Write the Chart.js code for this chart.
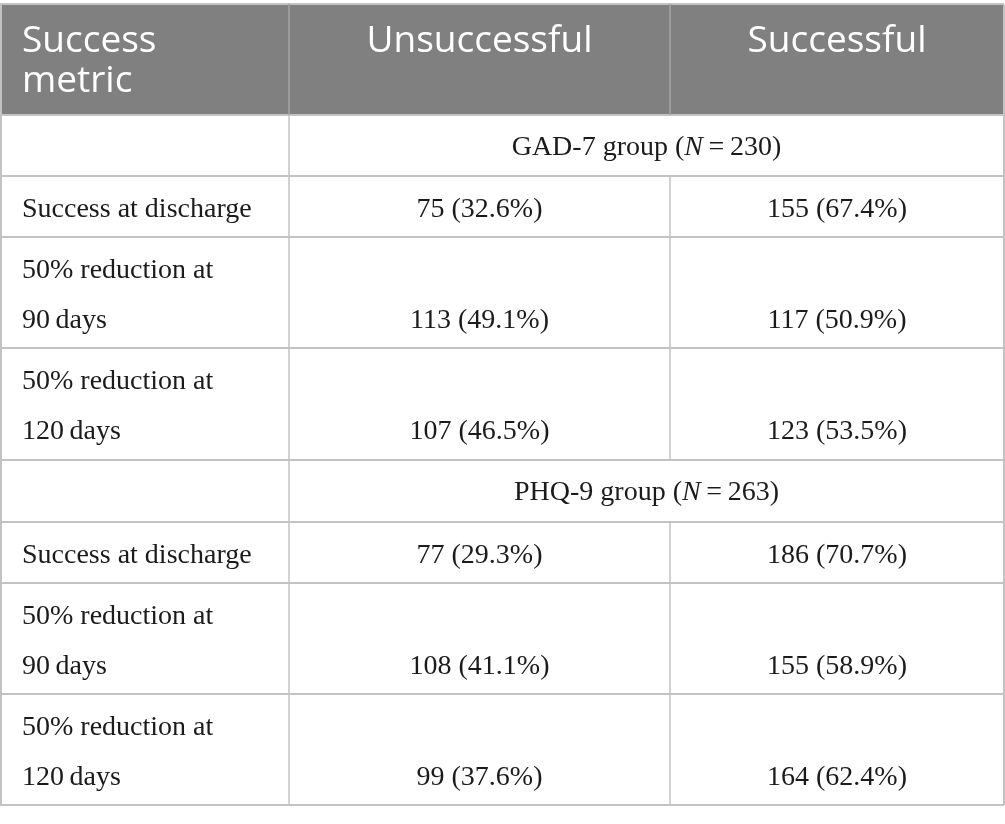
<!DOCTYPE html>
<html>
<head>
<meta charset="utf-8">
<script src="https://cdn.jsdelivr.net/npm/chart.js@4.4.1/dist/chart.umd.min.js"></script>
<style>
  html, body { margin: 0; padding: 0; background: #ffffff; }
  #table { display: block; }
</style>
</head>
<body>
<canvas id="table" width="1005" height="824"></canvas>
<script>
// Table data
const headers = [['Success', 'metric'], ['Unsuccessful'], ['Successful']];
const groupNames = ['GAD-7 group', 'PHQ-9 group'];
const groupN = [230, 263];
const metricLines = [
    ['Success at discharge'],
    ['50% reduction at', '90\u2009days'],
    ['50% reduction at', '120\u2009days']
];
const unsuccessfulCount = [[75, 113, 107], [77, 108, 99]];
const unsuccessfulPct = [[32.6, 49.1, 46.5], [29.3, 41.1, 37.6]];
const successfulCount = [[155, 117, 123], [186, 155, 164]];
const successfulPct = [[67.4, 50.9, 53.5], [70.7, 58.9, 62.4]];

// Layout (in canvas units, mapped through the chart scales)
const colEdges = [0, 289, 670, 1004];
const rowEdges = [4, 115, 176, 237, 348, 460, 522, 583, 694, 805];

const headFont = '37px "Open Sans"';
const bodyFont = '28px "Liberation Serif"';
const bodyItalic = 'italic 28px "Liberation Serif"';
const textColor = '#1c1a1b';
const lineColor = '#c3c3c3';
const headFill = '#7f807f';

function cellText(count, pct) {
    return count + ' (' + pct.toFixed(1) + '%)';
}

const tablePlugin = {
    id: 'tableCells',
    beforeDatasetsDraw(chart) {
        const ctx = chart.ctx;
        const x = chart.scales.x, y = chart.scales.y;
        const px = v => x.getPixelForValue(v);
        const py = v => y.getPixelForValue(v);
        const left = px(colEdges[0]), right = px(colEdges[3]);

        ctx.save();
        // header band
        ctx.fillStyle = headFill;
        ctx.fillRect(left, py(rowEdges[0]), right - left, py(rowEdges[1]) - py(rowEdges[0]));

        // header text
        ctx.font = headFont;
        ctx.fillStyle = '#ffffff';
        ctx.textBaseline = 'alphabetic';
        headers.forEach((lines, c) => {
            lines.forEach((t, i) => {
                const by = py(rowEdges[0]) + 48 + i * 40;
                if (c === 0) {
                    ctx.textAlign = 'left';
                    ctx.fillText(t, px(colEdges[0]) + 22, by);
                } else {
                    ctx.textAlign = 'center';
                    ctx.fillText(t, (px(colEdges[c]) + px(colEdges[c + 1])) / 2, by);
                }
            });
        });

        // body rows
        ctx.fillStyle = textColor;
        let r = 1;
        groupNames.forEach((g, gi) => {
            // group row spanning the two value columns
            const top = py(rowEdges[r]);
            const parts = [
                [g + ' (', bodyFont],
                ['N', bodyItalic],
                ['\u2009=\u2009' + groupN[gi] + ')', bodyFont]
            ];
            let w = 0;
            parts.forEach(p => { ctx.font = p[1]; w += ctx.measureText(p[0]).width; });
            let cx = (px(colEdges[1]) + px(colEdges[3])) / 2 - w / 2;
            ctx.textAlign = 'left';
            parts.forEach(p => {
                ctx.font = p[1];
                ctx.fillText(p[0], cx, top + 40);
                cx += ctx.measureText(p[0]).width;
            });
            r++;

            metricLines.forEach((lines, mi) => {
                const t = py(rowEdges[r]);
                ctx.font = bodyFont;
                ctx.textAlign = 'left';
                lines.forEach((l, li) => ctx.fillText(l, px(colEdges[0]) + 22, t + 41 + li * 50));
                const vb = t + 41 + (lines.length - 1) * 50;
                ctx.textAlign = 'center';
                ctx.fillText(cellText(unsuccessfulCount[gi][mi], unsuccessfulPct[gi][mi]),
                    (px(colEdges[1]) + px(colEdges[2])) / 2, vb);
                ctx.fillText(cellText(successfulCount[gi][mi], successfulPct[gi][mi]),
                    (px(colEdges[2]) + px(colEdges[3])) / 2, vb);
                r++;
            });
        });

        // grid lines
        ctx.lineWidth = 2;
        ctx.strokeStyle = lineColor;
        rowEdges.forEach(e => {
            ctx.beginPath();
            ctx.moveTo(left, py(e));
            ctx.lineTo(right, py(e));
            ctx.stroke();
        });
        const bottom = py(rowEdges[rowEdges.length - 1]);
        ctx.beginPath();
        ctx.moveTo(left + 1, py(rowEdges[0])); ctx.lineTo(left + 1, bottom);
        ctx.moveTo(right, py(rowEdges[0])); ctx.lineTo(right, bottom);
        ctx.stroke();
        // inner column dividers; group rows only split the first column
        ctx.lineWidth = 1.5;
        for (let i = 0; i < rowEdges.length - 1; i++) {
            const spanRow = (i === 1 || i === 5);
            for (let c = 1; c < colEdges.length - 1; c++) {
                if (spanRow && c === 2) continue;
                ctx.strokeStyle = i === 0 ? '#a3a3a3' : lineColor;
                ctx.beginPath();
                ctx.moveTo(px(colEdges[c]), py(rowEdges[i]));
                ctx.lineTo(px(colEdges[c]), py(rowEdges[i + 1]));
                ctx.stroke();
            }
        }
        ctx.restore();
    }
};

new Chart(document.getElementById('table'), {
    type: 'scatter',
    data: { datasets: [] },
    options: {
        responsive: false,
        animation: false,
        devicePixelRatio: 1,
        layout: { padding: 0 },
        plugins: { legend: { display: false }, tooltip: { enabled: false } },
        scales: {
            x: { type: 'linear', min: 0, max: 1005, display: false },
            y: { type: 'linear', min: 0, max: 824, reverse: true, display: false }
        }
    },
    plugins: [tablePlugin]
});
</script>
</body>
</html>
